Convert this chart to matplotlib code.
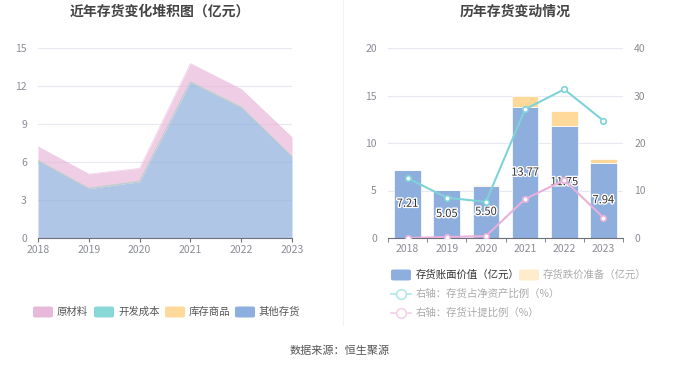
import matplotlib
matplotlib.use("Agg")
import matplotlib.pyplot as plt
import matplotlib.patheffects as pe
from matplotlib.patches import FancyBboxPatch
from matplotlib.lines import Line2D
import numpy as np

plt.rcParams['font.family'] = ['Noto Sans CJK SC', 'DejaVu Sans']

years = ['2018', '2019', '2020', '2021', '2022', '2023']
# left chart (stacked area, 亿元)
other_inv = [6.10, 3.90, 4.45, 12.30, 10.30, 6.40]
goods_inv = [0.02, 0.02, 0.02, 0.03, 0.03, 0.02]
dev_cost = [0.02, 0.02, 0.02, 0.03, 0.03, 0.02]
raw_mat = [1.07, 1.11, 1.01, 1.41, 1.39, 1.50]
# right chart
book_value = [7.21, 5.05, 5.50, 13.77, 11.75, 7.94]
provision = [0.00, 0.01, 0.03, 1.23, 1.65, 0.36]
ratio_net_assets = [12.6, 8.5, 7.6, 27.1, 31.3, 24.7]
ratio_provision = [0.0, 0.2, 0.4, 8.2, 12.2, 4.3]

W, H = 680, 367
fig = plt.figure(figsize=(W/100, H/100), dpi=100)

def fx(px): return px / W
def fy(py): return 1 - py / H

c_raw = '#e8b8da'
c_dev = '#88d8d8'
c_goods = '#ffd99a'
c_other = '#8eaedd'
grid_c = '#e6e9f2'
tick_c = '#8a8d96'
axis_c = '#6e7079'

# ---------- left chart ----------
ax1 = fig.add_axes([fx(38), fy(238), fx(292-38), (238-48)/H])
x = np.arange(len(years))
stack = np.vstack([other_inv, goods_inv, dev_cost, raw_mat])
cols = [c_other, c_goods, c_dev, c_raw]
lws = [0.4, 0.3, 0.3, 0.4]
base = np.zeros(len(years))
for vals, col, lw in zip(stack, cols, lws):
    top = base + vals
    ax1.fill_between(x, base, top, color=col, alpha=0.7, linewidth=0, zorder=2)
    ax1.plot(x, top, color=col, lw=lw, alpha=0.8, zorder=3)
    base = top
ax1.set_xlim(0, 5)
ax1.set_ylim(0, 15)
ax1.set_yticks([0, 3, 6, 9, 12, 15])
ax1.set_xticks(x)
ax1.set_xticklabels(years)
for s in ['top', 'right', 'left']:
    ax1.spines[s].set_visible(False)
ax1.spines['bottom'].set_color(axis_c)
ax1.spines['bottom'].set_linewidth(0.8)
ax1.grid(axis='y', color=grid_c, lw=0.8, zorder=0)
ax1.set_axisbelow(True)
ax1.tick_params(axis='y', length=0, labelsize=7.5, labelcolor=tick_c, pad=8)
ax1.tick_params(axis='x', length=3, color=axis_c, labelsize=7.5, labelcolor=tick_c, pad=2)
ax1.set_facecolor('none')

fig.text(fx(160), fy(12), '近年存货变化堆积图（亿元）', ha='center', va='center',
         fontsize=10, fontweight='bold', color='#444444')

# ---------- right chart ----------
ax2 = fig.add_axes([fx(388), fy(238), fx(623-388), (238-48)/H])
bw = 0.68
ax2.bar(x, book_value, width=bw, color=c_other, zorder=2, edgecolor='white', linewidth=0.5)
ax2.bar(x, provision, width=bw, bottom=book_value, color=c_goods, zorder=2,
        edgecolor='white', linewidth=0.5)
for xi, v in zip(x, book_value):
    ax2.text(xi, v / 2, f'{v:.2f}', ha='center', va='center', fontsize=8, color='#333333',
             zorder=6, path_effects=[pe.withStroke(linewidth=2, foreground='white')])
ax2.set_xlim(-0.5, 5.5)
ax2.set_ylim(0, 20)
ax2.set_yticks([0, 5, 10, 15, 20])
ax2.set_xticks(x)
ax2.set_xticklabels(years)
ax2.set_xticks(np.arange(-0.5, 6, 1), minor=True)
for s in ['top', 'right', 'left']:
    ax2.spines[s].set_visible(False)
ax2.spines['bottom'].set_color(axis_c)
ax2.spines['bottom'].set_linewidth(0.8)
ax2.grid(axis='y', color=grid_c, lw=0.8, zorder=0)
ax2.set_axisbelow(True)
ax2.tick_params(axis='y', length=0, labelsize=7.5, labelcolor=tick_c, pad=8)
ax2.tick_params(axis='x', which='major', length=0, labelsize=7.5, labelcolor=tick_c, pad=4)
ax2.tick_params(axis='x', which='minor', length=3, color=axis_c)

ax3 = ax2.twinx()
ax3.set_ylim(0, 40)
ax3.set_yticks([0, 10, 20, 30, 40])
for s in ['top', 'right', 'left', 'bottom']:
    ax3.spines[s].set_visible(False)
ax3.tick_params(axis='y', length=0, labelsize=7.5, labelcolor=tick_c, pad=8)
ax3.plot(x, ratio_net_assets, color='#7fd3d8', lw=1.5, marker='o', ms=4,
         mfc='white', mec='#7fd3d8', mew=1.2, zorder=5)
ax3.plot(x, ratio_provision, color='#e8b0da', lw=1.5, marker='o', ms=4,
         mfc='white', mec='#e8b0da', mew=1.2, zorder=5)

fig.text(fx(515), fy(12), '历年存货变动情况', ha='center', va='center',
         fontsize=10, fontweight='bold', color='#444444')

# divider
fig.add_artist(Line2D([fx(343), fx(343)], [fy(0), fy(325)], color='#f2f2f2', lw=0.8))

# ---------- legends ----------
def patch(px, py, col, w=20, h=11):
    fig.add_artist(FancyBboxPatch((fx(px), fy(py + h/2)), fx(w), h/H,
                                  boxstyle='round,pad=0,rounding_size=0.004',
                                  transform=fig.transFigure, facecolor=col, edgecolor='none'))

def label(px, py, s, col='#555555'):
    fig.text(fx(px), fy(py), s, ha='left', va='center', fontsize=7.5, color=col)

left_items = [('原材料', c_raw, 33), ('开发成本', c_dev, 94), ('库存商品', c_goods, 165), ('其他存货', c_other, 235)]
for name, col, px in left_items:
    patch(px, 312, col)
    label(px + 24, 312, name)

patch(391, 275, c_other)
label(416, 275, '存货账面价值（亿元）', '#333333')
patch(519, 275, '#ffeccc')
label(543, 275, '存货跌价准备（亿元）', '#aaaaaa')

for py, col, name in [(294, '#b5e6ea', '右轴：存货占净资产比例（%）'),
                      (313, '#f2d3e8', '右轴：存货计提比例（%）')]:
    fig.add_artist(Line2D([fx(391), fx(411)], [fy(py), fy(py)], color=col, lw=1.3))
    fig.add_artist(Line2D([fx(401)], [fy(py)], color=col, marker='o', ms=7,
                          mfc='white', mec=col, mew=1.2))
    label(416, py, name, '#aaaaaa')

fig.text(fx(340), fy(351), '数据来源：恒生聚源', ha='center', va='center',
         fontsize=8, color='#555555')

fig.savefig('out.png', dpi=100)
